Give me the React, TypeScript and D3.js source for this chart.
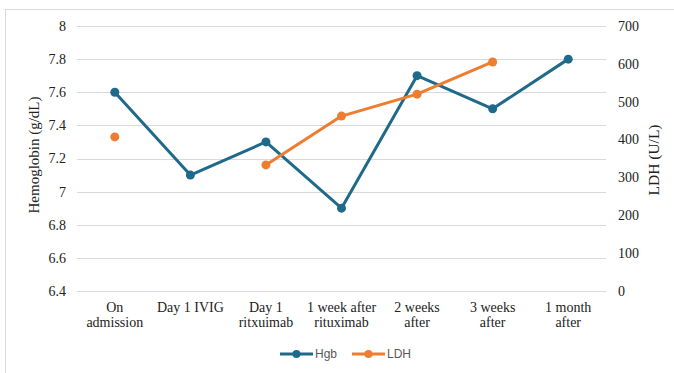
import React from "react";
import * as d3 from "d3";

const categories: string[][] = [
  ["On", "admission"],
  ["Day 1 IVIG"],
  ["Day 1", "ritxuimab"],
  ["1 week after", "rituximab"],
  ["2 weeks", "after"],
  ["3 weeks", "after"],
  ["1 month", "after"],
];
const hgb: (number | null)[] = [7.6, 7.1, 7.3, 6.9, 7.7, 7.5, 7.8];
const ldh: (number | null)[] = [407, null, 333, 462, 520, 605, null];
const leftTicks = [6.4, 6.6, 6.8, 7, 7.2, 7.4, 7.6, 7.8, 8];
const rightTicks = [0, 100, 200, 300, 400, 500, 600, 700];

const W = 674, H = 373;
const plot = { left: 77, right: 606, top: 26, bottom: 291 };
const BLUE = "#1F6A8A";
const ORANGE = "#ED7D31";
const serif = "'Liberation Serif', 'Times New Roman', serif";
const sans = "'Liberation Sans', Arial, sans-serif";

export default function App() {
  const x = d3.scaleBand<number>().domain(categories.map((_, i) => i)).range([plot.left, plot.right]);
  const cx = (i: number) => (x(i) as number) + x.bandwidth() / 2;
  const yL = d3.scaleLinear().domain([6.4, 8]).range([plot.bottom, plot.top]);
  const yR = d3.scaleLinear().domain([0, 700]).range([plot.bottom, plot.top]);

  const lineL = d3.line<number | null>().defined((d) => d != null).x((_, i) => cx(i)).y((d) => yL(d as number));
  const lineR = d3.line<number | null>().defined((d) => d != null).x((_, i) => cx(i)).y((d) => yR(d as number));

  return (
    <svg width={W} height={H} style={{ position: "absolute", left: 0, top: 0 }}>
      <rect x={0} y={0} width={W} height={H} fill="#fff" />
      <rect x={5.5} y={9.5} width={W + 10} height={H + 10} fill="none" stroke="#d9d9d9" strokeWidth={1} />
      {leftTicks.map((t) => (
        <line key={"g" + t} x1={plot.left} x2={plot.right} y1={Math.round(yL(t)) + 0.5} y2={Math.round(yL(t)) + 0.5} stroke="#d9d9d9" strokeWidth={1} />
      ))}
      {leftTicks.map((t) => (
        <text key={"l" + t} x={66} y={yL(t)} dy="0.35em" textAnchor="end" fontFamily={serif} fontSize={14} fill="#222">
          {String(t)}
        </text>
      ))}
      {rightTicks.map((t) => (
        <text key={"r" + t} x={618} y={yR(t)} dy="0.35em" textAnchor="start" fontFamily={serif} fontSize={14} fill="#222">
          {String(t)}
        </text>
      ))}
      <text transform={`translate(39,155) rotate(-90)`} textAnchor="middle" fontFamily={serif} fontSize={15} fill="#222">
        Hemoglobin (g/dL)
      </text>
      <text transform={`translate(659,160) rotate(-90)`} textAnchor="middle" fontFamily={serif} fontSize={15.5} fill="#222">
        LDH (U/L)
      </text>
      {categories.map((lines, i) =>
        lines.map((s, j) => (
          <text key={i + "-" + j} x={cx(i)} y={312 + j * 15} textAnchor="middle" fontFamily={serif} fontSize={14} fill="#222">
            {s}
          </text>
        ))
      )}
      <path d={lineL(hgb) || ""} fill="none" stroke={BLUE} strokeWidth={3} strokeLinejoin="round" />
      {hgb.map((v, i) => (v == null ? null : <circle key={"h" + i} cx={cx(i)} cy={yL(v)} r={4.5} fill={BLUE} />))}
      <path d={lineR(ldh) || ""} fill="none" stroke={ORANGE} strokeWidth={3} strokeLinejoin="round" />
      {ldh.map((v, i) => (v == null ? null : <circle key={"o" + i} cx={cx(i)} cy={yR(v)} r={4.5} fill={ORANGE} />))}
      <g>
        <line x1={280} x2={313} y1={354} y2={354} stroke={BLUE} strokeWidth={3} />
        <circle cx={296.5} cy={354} r={4} fill={BLUE} />
        <text x={315} y={354} dy="0.35em" fontFamily={sans} fontSize={12} fill="#595959">Hgb</text>
        <line x1={352} x2={385} y1={354} y2={354} stroke={ORANGE} strokeWidth={3} />
        <circle cx={368.5} cy={354} r={4} fill={ORANGE} />
        <text x={387} y={354} dy="0.35em" fontFamily={sans} fontSize={12} fill="#595959">LDH</text>
      </g>
    </svg>
  );
}
